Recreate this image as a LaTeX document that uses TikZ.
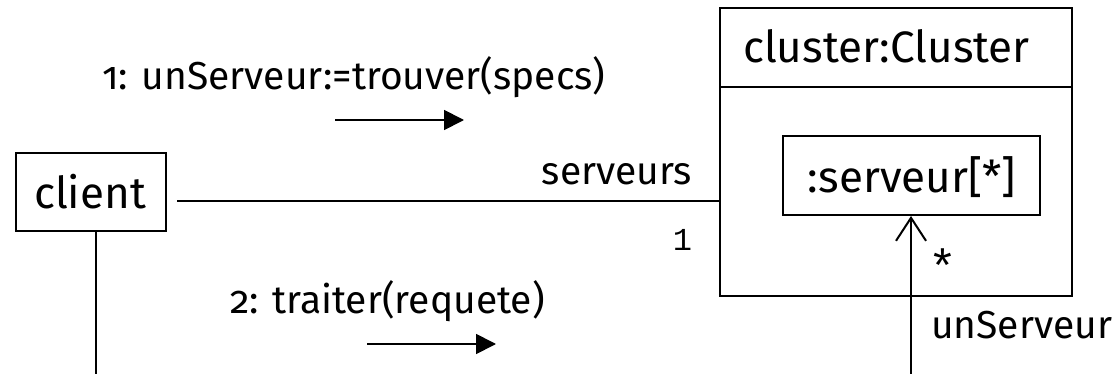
\documentclass[tikz,border=0pt]{standalone}
\usepackage{fontspec}
\setmainfont{Fira Sans}[Numbers=OldStyle]
\newfontfamily\multfont{Liberation Mono}
\usetikzlibrary{arrows.meta}
\begin{document}
\begin{tikzpicture}[x=1pt,y=-1pt,line width=2pt,
  txt/.style={font=\fontsize{39}{44}\selectfont,inner sep=0pt},
  boxtxt/.style={font=\fontsize{44}{50}\selectfont,inner sep=0pt},
  mult/.style={font=\multfont\fontsize{32}{36}\selectfont,inner sep=0pt},
  objbox/.style={draw,inner sep=0pt,boxtxt},
  msg/.style={-{Triangle[length=20pt,width=20pt]},line width=1.8pt},
  nav/.style={-{Straight Barb[length=23pt,width=30pt,line width=2pt]}}]
\useasboundingbox (0,0) rectangle (1115,374);

% client object
\node[objbox,minimum width=150pt,minimum height=78pt] (client) at (91,192) {};
\node[boxtxt,anchor=base] (clientname) at (90,208) {client};
\coordinate (lifeEnd) at (96,374);
\draw (client.south -| lifeEnd) -- (lifeEnd);

% cluster composite object
\node[draw,minimum width=352pt,minimum height=288pt,inner sep=0pt] (cluster) at (896,152) {};
\coordinate (divL) at (720,87);
\coordinate (divR) at (1072,87);
\draw (divL) -- (divR);
\node[boxtxt,anchor=base west] (clname) at (742,63) {cluster:Cluster};

% inner part
\node[objbox,minimum width=257pt,minimum height=79pt] (part) at (911.5,175.5) {};
\node[boxtxt,anchor=base] (partname) at (912,192) {:serveur[*]};

% association client -- cluster
\coordinate (assocR) at (720,200.5);
\draw (client.east |- assocR) ++(10,0) coordinate (assocL) -- (assocR);
\node[txt,anchor=base east] (role) at (693,185) {serveurs};
\node[mult,anchor=base east] (m1) at (693,250) {1};

% navigation to the parts
\coordinate (navEnd) at (911,374);
\draw[nav] (navEnd) -- (part.south -| navEnd);
\node[mult,font=\multfont\fontsize{48}{52}\selectfont] (mstar) at (943,266) {*};
\node[txt,anchor=base west] (navname) at (930,338) {unServeur};

% messages
\node[txt,anchor=base west] (msg1) at (101,90) {1: unServeur:=trouver(specs)};
\coordinate (a1s) at (335,120);
\coordinate (a1e) at (464,120);
\draw[msg] (a1s) -- (a1e);

\node[txt,anchor=base west] (msg2) at (229,313) {2: traiter(requete)};
\coordinate (a2s) at (367,344);
\coordinate (a2e) at (496,344);
\draw[msg] (a2s) -- (a2e);
\end{tikzpicture}
\end{document}
